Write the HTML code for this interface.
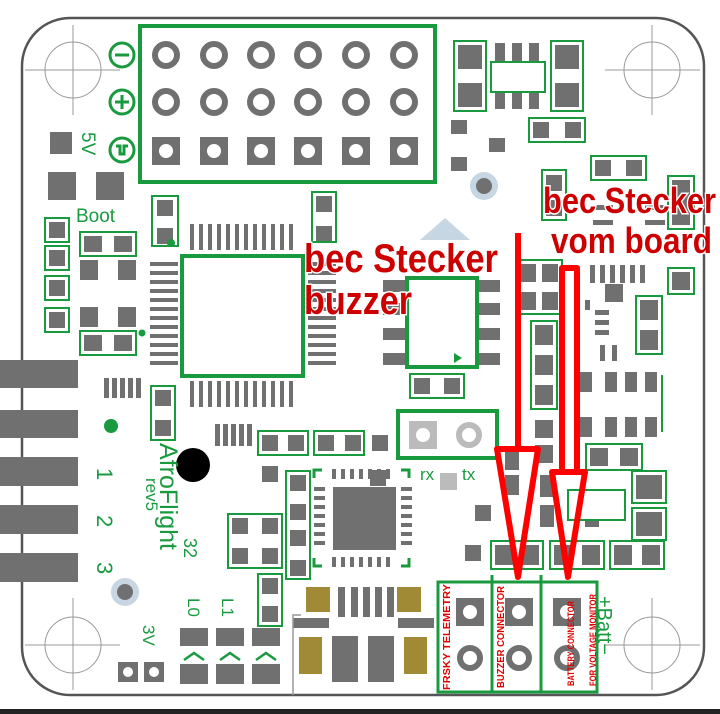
<!DOCTYPE html>
<html><head><meta charset="utf-8"><style>
html,body{margin:0;padding:0;background:#fff;}
svg{display:block;}
</style></head><body>
<svg width="720" height="714" viewBox="0 0 720 714" xmlns="http://www.w3.org/2000/svg">
<rect width="720" height="714" fill="#fff"/>
<rect x="0" y="709" width="720" height="5" fill="#222"/>
<rect x="22" y="18" width="682" height="677" rx="48" fill="#fff" stroke="#555" stroke-width="2.5"/>
<g fill="none" stroke="#999" stroke-width="1">
<circle cx="73" cy="70" r="28"/><line x1="25" y1="70" x2="120" y2="70"/><line x1="73" y1="25" x2="73" y2="115"/>
<circle cx="652" cy="70" r="28"/><line x1="605" y1="70" x2="700" y2="70"/><line x1="652" y1="25" x2="652" y2="115"/>
<circle cx="73" cy="645" r="28"/><line x1="25" y1="645" x2="120" y2="645"/><line x1="73" y1="598" x2="73" y2="690"/>
<circle cx="652" cy="645" r="28"/><line x1="605" y1="645" x2="700" y2="645"/><line x1="652" y1="598" x2="652" y2="690"/>
</g>
<rect x="140" y="26" width="295" height="156" fill="none" stroke="#1a9a3f" stroke-width="4"/>
<g fill="none" stroke="#707070" stroke-width="6">
<circle cx="166" cy="55" r="11"/><circle cx="214" cy="55" r="11"/><circle cx="261" cy="55" r="11"/><circle cx="308" cy="55" r="11"/><circle cx="356" cy="55" r="11"/><circle cx="404" cy="55" r="11"/>
<circle cx="166" cy="102" r="11"/><circle cx="214" cy="102" r="11"/><circle cx="261" cy="102" r="11"/><circle cx="308" cy="102" r="11"/><circle cx="356" cy="102" r="11"/><circle cx="404" cy="102" r="11"/>
</g>
<g fill="#707070">
<rect x="152" y="137" width="28" height="28"/><rect x="200" y="137" width="28" height="28"/><rect x="247" y="137" width="28" height="28"/><rect x="294" y="137" width="28" height="28"/><rect x="342" y="137" width="28" height="28"/><rect x="390" y="137" width="28" height="28"/>
</g>
<g fill="#fff"><circle cx="166" cy="151" r="7"/><circle cx="214" cy="151" r="7"/><circle cx="261" cy="151" r="7"/><circle cx="308" cy="151" r="7"/><circle cx="356" cy="151" r="7"/><circle cx="404" cy="151" r="7"/></g>
<g fill="none" stroke="#1a9a3f" stroke-width="3">
<circle cx="122" cy="55" r="12"/><circle cx="122" cy="102" r="12"/><circle cx="122" cy="150" r="12"/>
</g>
<g stroke="#1a9a3f" stroke-width="3"><line x1="115" y1="55" x2="129" y2="55"/><line x1="115" y1="102" x2="129" y2="102"/><line x1="122" y1="95" x2="122" y2="109"/>
<path d="M116 146 h4 v8 h4 v-8 h4" fill="none"/></g>
<text x="82" y="132" transform="rotate(90 82 132)" font-family="Liberation Sans, sans-serif" font-size="19" fill="#1a9a3f">5V</text>
<text x="76" y="222" font-family="Liberation Sans, sans-serif" font-size="19" fill="#1a9a3f">Boot</text>
<g fill="#707070">
<rect x="50" y="132" width="22" height="22"/><rect x="48" y="172" width="28" height="28"/><rect x="96" y="172" width="28" height="28"/>
</g>
<g fill="#707070">
<rect x="49" y="222" width="16" height="16"/><rect x="49" y="250" width="16" height="16"/><rect x="49" y="280" width="16" height="16"/><rect x="49" y="312" width="16" height="16"/>
<rect x="84" y="236" width="18" height="16"/><rect x="114" y="236" width="18" height="16"/>
<rect x="80" y="260" width="18" height="20"/><rect x="118" y="260" width="18" height="20"/>
<rect x="80" y="307" width="18" height="20"/><rect x="118" y="307" width="18" height="20"/>
<rect x="84" y="335" width="18" height="16"/><rect x="114" y="335" width="18" height="16"/>
<rect x="157" y="200" width="16" height="16"/><rect x="157" y="228" width="16" height="16"/>
<rect x="316" y="196" width="16" height="16"/><rect x="316" y="226" width="16" height="16"/>
</g>
<g fill="none" stroke="#1a9a3f" stroke-width="2">
<rect x="45" y="218" width="24" height="24"/><rect x="45" y="246" width="24" height="24"/><rect x="45" y="276" width="24" height="24"/><rect x="45" y="308" width="24" height="24"/>
<rect x="80" y="232" width="56" height="24"/><rect x="80" y="331" width="56" height="24"/>
<rect x="152" y="196" width="26" height="50"/><rect x="312" y="192" width="24" height="50"/>
</g>
<circle cx="171" cy="243" r="4" fill="#1a9a3f"/><circle cx="142" cy="333" r="3.5" fill="#1a9a3f"/>
<g fill="#707070">
<rect x="190" y="224" width="4" height="26"/><rect x="199" y="224" width="4" height="26"/><rect x="208" y="224" width="4" height="26"/><rect x="217" y="224" width="4" height="26"/><rect x="226" y="224" width="4" height="26"/><rect x="235" y="224" width="4" height="26"/><rect x="244" y="224" width="4" height="26"/><rect x="253" y="224" width="4" height="26"/><rect x="262" y="224" width="4" height="26"/><rect x="271" y="224" width="4" height="26"/><rect x="280" y="224" width="4" height="26"/><rect x="289" y="224" width="4" height="26"/>
<rect x="190" y="381" width="4" height="26"/><rect x="199" y="381" width="4" height="26"/><rect x="208" y="381" width="4" height="26"/><rect x="217" y="381" width="4" height="26"/><rect x="226" y="381" width="4" height="26"/><rect x="235" y="381" width="4" height="26"/><rect x="244" y="381" width="4" height="26"/><rect x="253" y="381" width="4" height="26"/><rect x="262" y="381" width="4" height="26"/><rect x="271" y="381" width="4" height="26"/><rect x="280" y="381" width="4" height="26"/><rect x="289" y="381" width="4" height="26"/>
<rect x="150" y="262" width="28" height="4"/><rect x="150" y="271" width="28" height="4"/><rect x="150" y="280" width="28" height="4"/><rect x="150" y="289" width="28" height="4"/><rect x="150" y="298" width="28" height="4"/><rect x="150" y="307" width="28" height="4"/><rect x="150" y="316" width="28" height="4"/><rect x="150" y="325" width="28" height="4"/><rect x="150" y="334" width="28" height="4"/><rect x="150" y="343" width="28" height="4"/><rect x="150" y="352" width="28" height="4"/><rect x="150" y="361" width="28" height="4"/>
<rect x="308" y="262" width="28" height="4"/><rect x="308" y="271" width="28" height="4"/><rect x="308" y="280" width="28" height="4"/><rect x="308" y="289" width="28" height="4"/><rect x="308" y="298" width="28" height="4"/><rect x="308" y="307" width="28" height="4"/><rect x="308" y="316" width="28" height="4"/><rect x="308" y="325" width="28" height="4"/><rect x="308" y="334" width="28" height="4"/><rect x="308" y="343" width="28" height="4"/><rect x="308" y="352" width="28" height="4"/><rect x="308" y="361" width="28" height="4"/>
</g>
<rect x="182" y="256" width="121" height="120" fill="#fff" stroke="#1a9a3f" stroke-width="4"/>
<g fill="#707070">
<rect x="0" y="360" width="78" height="28"/><rect x="0" y="410" width="78" height="28"/><rect x="0" y="457" width="78" height="29"/><rect x="0" y="505" width="78" height="29"/><rect x="0" y="553" width="78" height="29"/>
</g>
<g fill="#707070">
<rect x="104" y="378" width="5" height="20"/><rect x="112" y="378" width="5" height="20"/><rect x="120" y="378" width="5" height="20"/><rect x="128" y="378" width="5" height="20"/><rect x="136" y="378" width="5" height="20"/>
<rect x="215" y="424" width="5" height="22"/><rect x="223" y="424" width="5" height="22"/><rect x="231" y="424" width="5" height="22"/><rect x="239" y="424" width="5" height="22"/><rect x="247" y="424" width="5" height="22"/>
<rect x="155" y="390" width="16" height="16"/><rect x="155" y="420" width="16" height="16"/>
<rect x="262" y="435" width="16" height="16"/><rect x="288" y="435" width="16" height="16"/><rect x="318" y="435" width="16" height="16"/><rect x="345" y="435" width="16" height="16"/><rect x="372" y="435" width="16" height="16"/>
<rect x="262" y="466" width="16" height="16"/><rect x="290" y="475" width="16" height="16"/><rect x="290" y="504" width="16" height="16"/><rect x="290" y="530" width="16" height="16"/><rect x="290" y="560" width="16" height="16"/>
<rect x="232" y="518" width="16" height="16"/><rect x="262" y="518" width="16" height="16"/><rect x="232" y="548" width="16" height="16"/><rect x="262" y="548" width="16" height="16"/><rect x="262" y="578" width="16" height="16"/><rect x="262" y="606" width="16" height="16"/>
<rect x="370" y="470" width="16" height="16"/>
</g>
<g fill="none" stroke="#1a9a3f" stroke-width="2">
<rect x="151" y="386" width="24" height="54"/><rect x="258" y="431" width="50" height="24"/><rect x="314" y="431" width="50" height="24"/>
<rect x="228" y="514" width="54" height="54"/><rect x="286" y="471" width="24" height="108"/><rect x="258" y="574" width="24" height="52"/>
</g>
<circle cx="111" cy="426" r="7" fill="#1a9a3f"/>
<circle cx="193" cy="465" r="17" fill="#000"/>
<g font-family="Liberation Sans, sans-serif" fill="#1a9a3f">
<text x="97" y="468" transform="rotate(90 97 468)" font-size="22">1</text>
<text x="97" y="515" transform="rotate(90 97 515)" font-size="22">2</text>
<text x="97" y="562" transform="rotate(90 97 562)" font-size="22">3</text>
<text x="160" y="443" transform="rotate(90 160 443)" font-size="25">AfroFlight</text>
<text x="146" y="478" transform="rotate(90 146 478)" font-size="17">rev5</text>
<text x="184" y="538" transform="rotate(90 184 538)" font-size="18">32</text>
<text x="188" y="598" transform="rotate(90 188 598)" font-size="17">L0</text>
<text x="222" y="598" transform="rotate(90 222 598)" font-size="17">L1</text>
<text x="143" y="625" transform="rotate(90 143 625)" font-size="17">3V</text>
<text x="420" y="480" font-size="17">rx</text><text x="462" y="480" font-size="17">tx</text>
<text x="598" y="596" transform="rotate(90 598 596)" font-size="20">+Batt−</text>
</g>
<g fill="none" stroke="#1a9a3f" stroke-width="2.5"><path d="M184 660 l10 -7 l10 7 M220 660 l10 -7 l10 7 M256 660 l10 -7 l10 7"/></g>
<g fill="#707070">
<rect x="180" y="628" width="28" height="18"/><rect x="216" y="628" width="28" height="18"/><rect x="252" y="628" width="28" height="18"/>
<rect x="180" y="664" width="28" height="20"/><rect x="216" y="664" width="28" height="20"/><rect x="252" y="664" width="28" height="20"/>
<rect x="118" y="662" width="20" height="20"/><rect x="144" y="662" width="20" height="20"/>
</g>
<circle cx="128" cy="672" r="5" fill="#fff"/><circle cx="154" cy="672" r="5" fill="#fff"/>
<circle cx="125" cy="592" r="14" fill="#c6d7e3"/><circle cx="125" cy="592" r="8" fill="#707070"/>
<circle cx="484" cy="186" r="14" fill="#c6d7e3"/><circle cx="484" cy="186" r="8" fill="#707070"/>
<polygon points="445,218 420,240 470,240" fill="#c6d7e3"/>
<g fill="#707070">
<rect x="333" y="487" width="63" height="63"/>
<rect x="332" y="469" width="4" height="10"/><rect x="341" y="469" width="4" height="10"/><rect x="350" y="469" width="4" height="10"/><rect x="359" y="469" width="4" height="10"/><rect x="368" y="469" width="4" height="10"/><rect x="377" y="469" width="4" height="10"/><rect x="386" y="469" width="4" height="10"/>
<rect x="332" y="557" width="4" height="10"/><rect x="341" y="557" width="4" height="10"/><rect x="350" y="557" width="4" height="10"/><rect x="359" y="557" width="4" height="10"/><rect x="368" y="557" width="4" height="10"/><rect x="377" y="557" width="4" height="10"/><rect x="386" y="557" width="4" height="10"/>
<rect x="314" y="487" width="11" height="4"/><rect x="314" y="496" width="11" height="4"/><rect x="314" y="505" width="11" height="4"/><rect x="314" y="514" width="11" height="4"/><rect x="314" y="523" width="11" height="4"/><rect x="314" y="532" width="11" height="4"/><rect x="314" y="541" width="11" height="4"/>
<rect x="401" y="487" width="11" height="4"/><rect x="401" y="496" width="11" height="4"/><rect x="401" y="505" width="11" height="4"/><rect x="401" y="514" width="11" height="4"/><rect x="401" y="523" width="11" height="4"/><rect x="401" y="532" width="11" height="4"/><rect x="401" y="541" width="11" height="4"/>
</g>
<g fill="none" stroke="#1a9a3f" stroke-width="3"><path d="M314 478 v-8 h8 M401 470 h8 v8 M314 558 v8 h8 M401 566 h8 v-8"/></g>
<rect x="398" y="411" width="99" height="47" fill="none" stroke="#1a9a3f" stroke-width="4"/>
<rect x="409" y="421" width="28" height="28" fill="#bbb"/><circle cx="423" cy="435" r="7" fill="#fff"/>
<circle cx="469" cy="435" r="10" fill="none" stroke="#bbb" stroke-width="6"/>
<rect x="440" y="473" width="17" height="17" fill="#bbb"/>
<g fill="#707070">
<rect x="383" y="280" width="32" height="12"/><rect x="383" y="303" width="32" height="12"/><rect x="383" y="328" width="32" height="12"/><rect x="383" y="353" width="32" height="12"/>
<rect x="467" y="280" width="33" height="12"/><rect x="467" y="303" width="33" height="12"/><rect x="467" y="328" width="33" height="12"/><rect x="467" y="353" width="33" height="12"/>
<rect x="414" y="378" width="16" height="16"/><rect x="444" y="378" width="16" height="16"/>
</g>
<rect x="407" y="278" width="70" height="89" fill="#fff" stroke="#1a9a3f" stroke-width="4"/>
<polygon points="454,353 454,363 462,358" fill="#1a9a3f"/>
<rect x="410" y="374" width="54" height="24" fill="none" stroke="#1a9a3f" stroke-width="2"/>
<g fill="#707070">
<rect x="458" y="45" width="24" height="24"/><rect x="458" y="83" width="24" height="24"/><rect x="555" y="45" width="24" height="24"/><rect x="555" y="83" width="24" height="24"/>
<rect x="495" y="43" width="10" height="66"/><rect x="512" y="43" width="10" height="66"/><rect x="529" y="43" width="10" height="66"/>
<rect x="533" y="122" width="16" height="16"/><rect x="565" y="122" width="16" height="16"/>
<rect x="451" y="120" width="16" height="14"/><rect x="451" y="157" width="16" height="14"/><rect x="489" y="138" width="16" height="14"/>
<rect x="595" y="160" width="16" height="16"/><rect x="626" y="160" width="16" height="16"/>
<rect x="546" y="175" width="16" height="16"/><rect x="546" y="200" width="16" height="16"/>
<rect x="672" y="180" width="18" height="45"/>
<rect x="593" y="205" width="20" height="5"/><rect x="593" y="220" width="20" height="5"/><rect x="645" y="205" width="20" height="5"/><rect x="645" y="220" width="20" height="5"/>
<rect x="590" y="265" width="5" height="18"/><rect x="600" y="265" width="5" height="18"/><rect x="610" y="265" width="5" height="18"/><rect x="620" y="265" width="5" height="18"/><rect x="630" y="265" width="5" height="18"/><rect x="640" y="265" width="5" height="18"/>
<rect x="672" y="272" width="18" height="18"/>
<rect x="605" y="284" width="18" height="18"/>
<rect x="640" y="300" width="18" height="20"/><rect x="640" y="330" width="18" height="20"/>
<rect x="520" y="264" width="16" height="18"/><rect x="542" y="264" width="16" height="18"/><rect x="520" y="292" width="16" height="18"/><rect x="542" y="292" width="16" height="18"/>
<rect x="535" y="325" width="18" height="20"/><rect x="535" y="355" width="18" height="20"/><rect x="535" y="385" width="18" height="20"/>
<rect x="585" y="300" width="5" height="10"/><rect x="595" y="310" width="14" height="5"/><rect x="595" y="320" width="14" height="5"/><rect x="595" y="330" width="14" height="5"/>
<rect x="600" y="345" width="5" height="16"/><rect x="612" y="345" width="5" height="16"/>
<rect x="580" y="372" width="12" height="20"/><rect x="605" y="372" width="12" height="20"/><rect x="625" y="372" width="12" height="20"/><rect x="645" y="372" width="12" height="20"/>
<rect x="580" y="417" width="12" height="20"/><rect x="605" y="417" width="12" height="20"/><rect x="625" y="417" width="12" height="20"/><rect x="645" y="417" width="12" height="20"/>
<rect x="535" y="420" width="18" height="18"/><rect x="535" y="445" width="18" height="18"/>
<rect x="590" y="448" width="18" height="18"/><rect x="620" y="448" width="18" height="18"/>
<rect x="636" y="475" width="26" height="24"/><rect x="636" y="512" width="26" height="24"/>
<rect x="505" y="450" width="14" height="20"/><rect x="505" y="475" width="14" height="20"/>
<rect x="540" y="475" width="14" height="22"/><rect x="540" y="505" width="14" height="22"/><rect x="585" y="505" width="14" height="22"/>
<rect x="495" y="545" width="18" height="20"/><rect x="521" y="545" width="18" height="20"/><rect x="554" y="545" width="18" height="20"/><rect x="582" y="545" width="18" height="20"/><rect x="614" y="545" width="18" height="20"/><rect x="642" y="545" width="18" height="20"/>
<rect x="475" y="505" width="16" height="16"/><rect x="465" y="545" width="16" height="16"/>
</g>
<rect x="491" y="62" width="54" height="30" fill="#fff" stroke="#1a9a3f" stroke-width="2"/>
<rect x="568" y="490" width="57" height="30" fill="#fff" stroke="#1a9a3f" stroke-width="2"/>
<g fill="none" stroke="#1a9a3f" stroke-width="2">
<rect x="454" y="41" width="32" height="70"/><rect x="551" y="41" width="32" height="70"/><rect x="529" y="118" width="56" height="24"/>
<rect x="591" y="156" width="55" height="24"/><rect x="542" y="170" width="24" height="50"/><rect x="668" y="176" width="26" height="53"/>
<rect x="668" y="268" width="26" height="26"/><rect x="516" y="260" width="46" height="54"/><rect x="531" y="321" width="26" height="88"/>
<rect x="636" y="296" width="26" height="58"/><rect x="632" y="471" width="34" height="32"/><rect x="632" y="508" width="34" height="32"/>
<rect x="586" y="444" width="56" height="26"/><rect x="491" y="541" width="52" height="28"/><rect x="550" y="541" width="54" height="28"/><rect x="610" y="541" width="54" height="28"/>
<line x1="662" y1="375" x2="662" y2="432"/>
</g>
<g fill="#707070">
<rect x="338" y="587" width="7" height="30"/><rect x="351" y="587" width="7" height="30"/><rect x="363" y="587" width="7" height="30"/><rect x="375" y="587" width="7" height="30"/><rect x="387" y="587" width="7" height="30"/>
<rect x="293" y="618" width="36" height="10"/><rect x="398" y="618" width="36" height="10"/>
<rect x="332" y="636" width="26" height="46"/><rect x="368" y="636" width="26" height="46"/>
</g>
<g fill="#a08a35">
<rect x="306" y="587" width="24" height="25"/><rect x="397" y="587" width="24" height="25"/>
<rect x="299" y="637" width="23" height="37"/><rect x="404" y="637" width="23" height="37"/>
</g>
<path d="M293 695 v-80 h8" fill="none" stroke="#999" stroke-width="1.5"/>
<rect x="438" y="582" width="159" height="110" fill="#fff" stroke="#1a9a3f" stroke-width="3"/>
<line x1="492" y1="575" x2="492" y2="692" stroke="#1a9a3f" stroke-width="3"/>
<line x1="541" y1="575" x2="541" y2="692" stroke="#1a9a3f" stroke-width="3"/>
<g fill="#707070"><rect x="456" y="598" width="28" height="28"/><rect x="505" y="598" width="28" height="28"/><rect x="553" y="598" width="28" height="28"/></g>
<g fill="#fff"><circle cx="470" cy="612" r="7"/><circle cx="519" cy="612" r="7"/><circle cx="567" cy="612" r="7"/></g>
<g fill="none" stroke="#707070" stroke-width="6"><circle cx="470" cy="658" r="10"/><circle cx="519" cy="658" r="10"/><circle cx="567" cy="658" r="10"/></g>
<g font-family="Liberation Sans, sans-serif" font-weight="bold" fill="#e00000">
<text x="450" y="690" transform="rotate(-90 450 690)" font-size="10" textLength="106" lengthAdjust="spacingAndGlyphs">FRSKY TELEMETRY</text>
<text x="504" y="688" transform="rotate(-90 504 688)" font-size="10" textLength="102" lengthAdjust="spacingAndGlyphs">BUZZER CONNECTOR</text>
<text x="574" y="686" transform="rotate(-90 574 686)" font-size="9" textLength="85" lengthAdjust="spacingAndGlyphs">BATTERY CONNECTOR</text>
<text x="596" y="686" transform="rotate(-90 596 686)" font-size="9" textLength="92" lengthAdjust="spacingAndGlyphs">FOR VOLTAGE MONITOR</text>
</g>
<g fill="none" stroke="#ff0000" stroke-width="6" stroke-linejoin="round">
<line x1="518" y1="233" x2="518" y2="450"/>
<polygon points="497,449 538,449 518,577"/>
<path d="M562 470 V268 H577 V470"/>
<polygon points="552,472 585,472 568,577"/>
</g>
<g font-family="Liberation Sans, sans-serif" font-weight="bold" fill="#cc0000" stroke="#fff" stroke-width="3" paint-order="stroke">
<text x="304" y="272" font-size="40" textLength="194" lengthAdjust="spacingAndGlyphs">bec Stecker</text>
<text x="304" y="314" font-size="40" textLength="108" lengthAdjust="spacingAndGlyphs">buzzer</text>
<text x="543" y="213" font-size="36" textLength="173" lengthAdjust="spacingAndGlyphs">bec Stecker</text>
<text x="551" y="253" font-size="36" textLength="161" lengthAdjust="spacingAndGlyphs">vom board</text>
</g>
</svg>
</body></html>
